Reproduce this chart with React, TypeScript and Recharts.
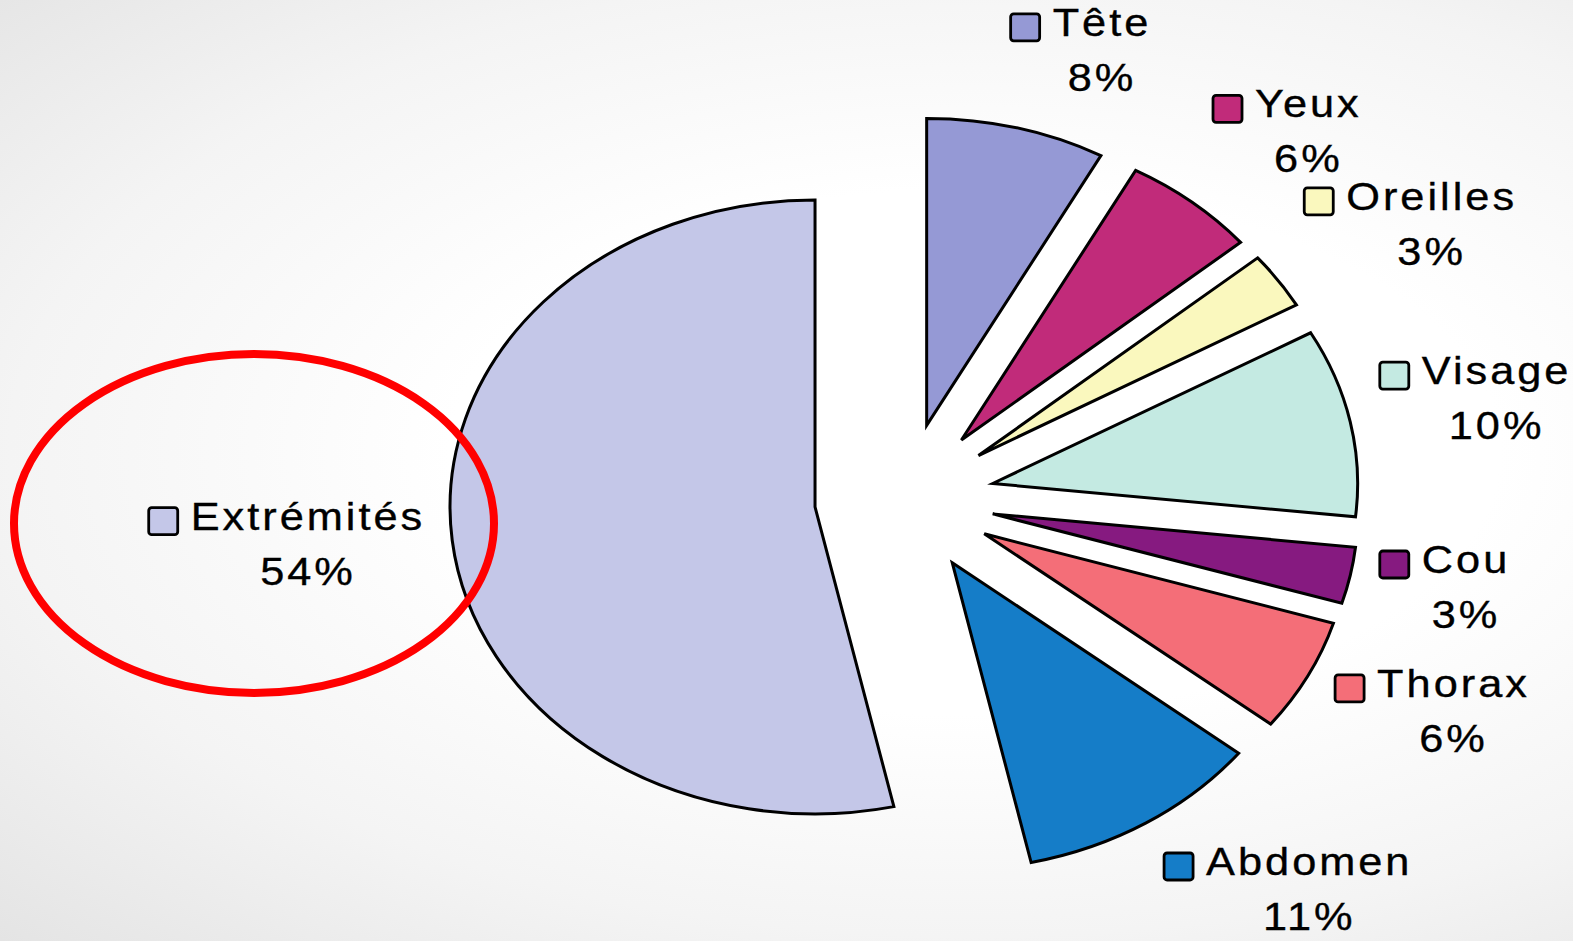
import React from 'react';
import { PieChart, Pie, Cell } from 'recharts';

const categories = ['Tête', 'Yeux', 'Oreilles', 'Visage', 'Cou', 'Thorax', 'Abdomen', 'Extrémités'];
const percentages = [8, 6, 3, 10, 3, 6, 11, 54];
const colors = ['#9599D5', '#C12B7A', '#FAF8BE', '#C4EAE2', '#861A80', '#F46E78', '#157DC8', '#C4C7E8'];

const data = categories.map((name, i) => ({ name, value: percentages[i] }));

const W = 1573;
const H = 941;
const CX = 904.5;
const CY = 498.7;
const R = 365;
const K = 0.841; // vertical squash of the pie
const EXPLODE = 90;
const LABEL_GAP = 30;
const RAD = Math.PI / 180;
const FONT_SIZE = 38;
const SX = 1.14; // horizontal text stretch
const LETTER = 3; // visible letter spacing, px
const FONT = '"Liberation Sans", Arial, sans-serif';
const SQ_W = 29;
const SQ_H = 27;
const GAP = 13;
const LINE = 55;
const CAP = 28;

let ctx: CanvasRenderingContext2D | null = null;
function measure(t: string): number {
  if (!ctx) ctx = document.createElement('canvas').getContext('2d');
  let raw = t.length * FONT_SIZE * 0.55;
  if (ctx) {
    ctx.font = `${FONT_SIZE}px "Liberation Sans"`;
    raw = ctx.measureText(t).width;
  }
  return raw * SX + LETTER * (t.length - 1);
}

const clamp = (v: number, lo: number, hi: number) => Math.max(lo, Math.min(hi, v));

function ExplodedSector(props: any) {
  const { cx, cy, outerRadius, startAngle, endAngle, fill } = props;
  const mid = (startAngle + endAngle) / 2;
  const vx = cx + EXPLODE * Math.cos(mid * RAD);
  const vy = cy - EXPLODE * Math.sin(mid * RAD) * K;
  const sx = vx + outerRadius * Math.cos(startAngle * RAD);
  const sy = vy - outerRadius * K * Math.sin(startAngle * RAD);
  const ex = vx + outerRadius * Math.cos(endAngle * RAD);
  const ey = vy - outerRadius * K * Math.sin(endAngle * RAD);
  const large = Math.abs(startAngle - endAngle) > 180 ? 1 : 0;
  const sweep = startAngle > endAngle ? 1 : 0;
  const d = `M${vx},${vy} L${sx},${sy} A${outerRadius},${outerRadius * K} 0 ${large} ${sweep} ${ex},${ey} Z`;
  return <path d={d} fill={fill} stroke="#000" strokeWidth={3} strokeLinejoin="miter" />;
}

function StretchText({ x, y, children }: { x: number; y: number; children: string }) {
  return (
    <text
      transform={`translate(${x},${y}) scale(${SX},1)`}
      x={0}
      y={0}
      fontSize={FONT_SIZE}
      fontFamily={FONT}
      letterSpacing={LETTER / SX}
      fill="#000"
      stroke="#000"
      strokeWidth={0.35}
      textAnchor="start"
    >
      {children}
    </text>
  );
}

function renderLabel(props: any) {
  const { cx, cy, midAngle, outerRadius, index } = props;
  const name = categories[index];
  const pct = `${percentages[index]}%`;
  const nameW = measure(name);
  const pctW = measure(pct);
  const w = SQ_W + GAP + nameW;
  const h = CAP + LINE;
  const c = Math.cos(midAngle * RAD);
  const s = Math.sin(midAngle * RAD);
  // point on the exploded slice's outer edge at mid angle
  const ox = cx + (EXPLODE + outerRadius) * c;
  const oy = cy - (EXPLODE + outerRadius) * s * K;
  const dx = c;
  const dy = -s * K;
  const n = Math.hypot(dx, dy);
  const px = ox + (LABEL_GAP * dx) / n;
  const py = oy + (LABEL_GAP * dy) / n;
  const xf = clamp(0.5 - 1.6 * c, 0, 1);
  const yf = clamp(0.58 + 0.75 * s, 0, 1.1);
  const left = px - xf * w;
  const top = py - yf * h;
  const base1 = top + CAP;
  const base2 = base1 + LINE;
  const textX = left + SQ_W + GAP;
  const pctX = textX + nameW / 2 - pctW / 2;
  return (
    <g key={`lbl-${index}`}>
      <rect
        x={left}
        y={base1 - 8.5 - SQ_H / 2}
        width={SQ_W}
        height={SQ_H}
        rx={3}
        fill={colors[index]}
        stroke="#000"
        strokeWidth={2.8}
      />
      <StretchText x={textX} y={base1}>{name}</StretchText>
      <StretchText x={pctX} y={base2}>{pct}</StretchText>
    </g>
  );
}

export default function App() {
  return (
    <div
      style={{
        position: 'absolute',
        left: 0,
        top: 0,
        width: W,
        height: H,
        background: 'radial-gradient(ellipse at 62% 48%, #ffffff 38%, #f4f4f4 70%, #e4e4e4 100%)',
        overflow: 'hidden',
      }}
    >
      <PieChart width={W} height={H} margin={{ top: 0, right: 0, bottom: 0, left: 0 }}>
        <Pie
          data={data}
          dataKey="value"
          nameKey="name"
          cx={CX}
          cy={CY}
          outerRadius={R}
          startAngle={90}
          endAngle={-270}
          isAnimationActive={false}
          shape={ExplodedSector}
          inactiveShape={ExplodedSector}
          activeShape={ExplodedSector}
          label={renderLabel}
          labelLine={false}
          stroke="#000"
        >
          {data.map((d, i) => (
            <Cell key={d.name} fill={colors[i]} />
          ))}
        </Pie>
      </PieChart>
      <svg width={W} height={H} style={{ position: 'absolute', left: 0, top: 0, pointerEvents: 'none' }}>
        <ellipse cx={254} cy={523.5} rx={240} ry={169.5} fill="none" stroke="#FF0000" strokeWidth={8} />
      </svg>
    </div>
  );
}
